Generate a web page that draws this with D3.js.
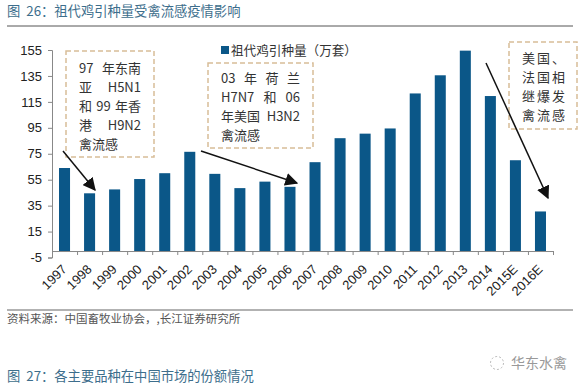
<!DOCTYPE html>
<html>
<head>
<meta charset="utf-8">
<script src="https://cdn.jsdelivr.net/npm/d3@7"></script>
<style>
  html, body { margin: 0; padding: 0; background: #fff; }
  svg { display: block; }
  text { font-family: "Noto Sans CJK SC", sans-serif; white-space: pre; }
  .tick text { font-family: "Liberation Sans", sans-serif; fill: #222; }
</style>
</head>
<body>
<svg id="chart" width="588" height="388"></svg>
<script>
const years = ['1997', '1998', '1999', '2000', '2001', '2002', '2003', '2004', '2005', '2006',
  '2007', '2008', '2009', '2010', '2011', '2012', '2013', '2014', '2015E', '2016E'];
const stock = [64, 44.5, 47.5, 55.5, 60, 76.5, 59.5, 48.5, 53.5, 49.5,
  68.5, 87, 90.5, 94.5, 121.5, 135.5, 154.5, 119.5, 70, 30.5];
const yTicks = [-5, 15, 35, 55, 75, 95, 115, 135, 155];

// full width punctuation written as escapes so it stays full width
const seriesName = '祖代鸡引种量\uFF08万套\uFF09';
const title = '图  26\uFF1A祖代鸡引种量受禽流感疫情影响';
const source = '资料来源\uFF1A中国畜牧业协会\uFF0C,长江证券研究所';
const nextTitle = '图  27\uFF1A各主要品种在中国市场的份额情况';
const watermark = '华东水禽';

const note1 = ['97 年东南', '亚 H5N1', '和 99 年香', '港 H9N2', '禽流感'];
const note2 = ['03 年 荷 兰', 'H7N7 和 06', '年美国 H3N2', '禽流感'];
const note3 = ['美国\u3001', '法国相', '继爆发', '禽流感'];

const barColor = '#0b5788';
const titleColor = '#3d6e8c';
const margin = {left: 52, right: 35, top: 50, bottom: 131};
const width = 588;
const height = 388;

const svg = d3.select('#chart');

const x = d3.scaleBand()
  .domain(years)
  .range([margin.left, width - margin.right])
  .paddingInner(0.56)
  .paddingOuter(0.28);
const xEdges = d3.scaleLinear().domain([0, years.length]).range([margin.left, width - margin.right]);
const y = d3.scaleLinear().domain([-5, 155]).range([height - margin.bottom + 0.5, margin.top]);

// page header and footer
svg.append('text').text(title)
  .attr('x', 7).attr('y', 16).attr('font-size', 13.3).attr('fill', titleColor);
svg.append('line')
  .attr('x1', 7).attr('x2', 573).attr('y1', 26).attr('y2', 26)
  .attr('stroke', '#555').attr('stroke-width', 1);
svg.append('line')
  .attr('x1', 7).attr('x2', 573).attr('y1', 310).attr('y2', 310)
  .attr('stroke', '#999').attr('stroke-width', 1.5);
svg.append('text').text(source)
  .attr('x', 7).attr('y', 323).attr('font-size', 11.5).attr('fill', '#555');
svg.append('text').text(nextTitle)
  .attr('x', 7).attr('y', 381).attr('font-size', 13.3).attr('fill', titleColor);
svg.append('text').text(watermark)
  .attr('x', 511).attr('y', 368).attr('font-size', 14).attr('fill', '#999');

// little bird of the watermark
svg.append('circle')
  .attr('cx', 497).attr('cy', 363).attr('r', 6.5)
  .attr('fill', 'none').attr('stroke', '#bbb').attr('stroke-dasharray', '2 2');

// bars
svg.selectAll('.bar')
  .data(stock)
  .enter()
  .append('rect')
  .attr('class', 'bar')
  .attr('x', (d, i) => x(years[i]))
  .attr('width', x.bandwidth())
  .attr('y', d => y(d))
  .attr('height', d => y(0) - y(d))
  .attr('fill', barColor);

// y axis
const yAxis = svg.append('g')
  .attr('transform', `translate(${margin.left},0)`)
  .call(d3.axisLeft(y).tickValues(yTicks).tickSize(4).tickPadding(6).tickFormat(String));
yAxis.selectAll('text').attr('font-size', 13);
yAxis.selectAll('line, path').attr('stroke', '#888');

// x axis, ticks sit between the bars
const xTicks = svg.append('g')
  .attr('transform', `translate(0,${y(0)})`)
  .call(d3.axisBottom(xEdges).ticks(years.length).tickSize(4).tickFormat(''));
xTicks.selectAll('line, path').attr('stroke', '#888');

const xLabels = svg.append('g')
  .attr('transform', `translate(0,${y(0)})`)
  .call(d3.axisBottom(x).tickSize(0).tickPadding(0));
xLabels.select('.domain').remove();
xLabels.selectAll('text')
  .attr('font-size', 13)
  .attr('text-anchor', 'end')
  .attr('dy', 0)
  .attr('transform', 'translate(3,19) rotate(-45)');

// legend
svg.append('rect')
  .attr('x', 221).attr('y', 46).attr('width', 8).attr('height', 8)
  .attr('fill', barColor);
svg.append('text').text(seriesName)
  .attr('x', 231).attr('y', 55).attr('font-size', 12.6).attr('fill', '#333');

// dashed note boxes, lines are justified by stretching the gaps between words
function noteBox(lines, box, textX, textW, firstY, lineGap, tracking) {
  svg.append('rect')
    .attr('x', box[0]).attr('y', box[1]).attr('width', box[2]).attr('height', box[3])
    .attr('fill', '#fff').attr('fill-opacity', 0.6)
    .attr('stroke', '#d8bd98').attr('stroke-width', 1.5).attr('stroke-dasharray', '5 3');
  svg.append('g').selectAll('text')
    .data(lines)
    .enter()
    .append('text')
    .text(d => d)
    .attr('x', textX)
    .attr('y', (d, i) => firstY + i * lineGap)
    .attr('font-size', 13)
    .attr('letter-spacing', tracking)
    .attr('fill', '#333')
    .each(function(d) {
      const gaps = d.split(' ').length - 1;
      if (gaps > 0) {
        const extra = (textW - this.getComputedTextLength()) / gaps;
        d3.select(this).attr('word-spacing', extra);
      }
    });
}
noteBox(note1, [66, 51, 88, 106], 79, 62, 73, 19, 0);
noteBox(note2, [208, 63, 105, 85], 221, 79, 83, 19, 0);
noteBox(note3, [509, 42, 68, 87], 522, 43, 63, 19, 2);

// arrows
svg.append('defs').append('marker')
  .attr('id', 'head')
  .attr('viewBox', '0 0 10 10')
  .attr('refX', 9).attr('refY', 5)
  .attr('markerUnits', 'userSpaceOnUse')
  .attr('markerWidth', 13).attr('markerHeight', 13)
  .attr('orient', 'auto')
  .append('path').attr('d', 'M0,0 L10,5 L0,10 Z').attr('fill', '#111');

const arrows = [
  [63, 151, 95, 190],
  [201, 151, 297, 183],
  [486, 63, 548, 198]
];
svg.selectAll('.arrow')
  .data(arrows)
  .enter()
  .append('line')
  .attr('class', 'arrow')
  .attr('x1', d => d[0]).attr('y1', d => d[1])
  .attr('x2', d => d[2]).attr('y2', d => d[3])
  .attr('stroke', '#111').attr('stroke-width', 1.5)
  .attr('marker-end', 'url(#head)');
</script>
</body>
</html>
